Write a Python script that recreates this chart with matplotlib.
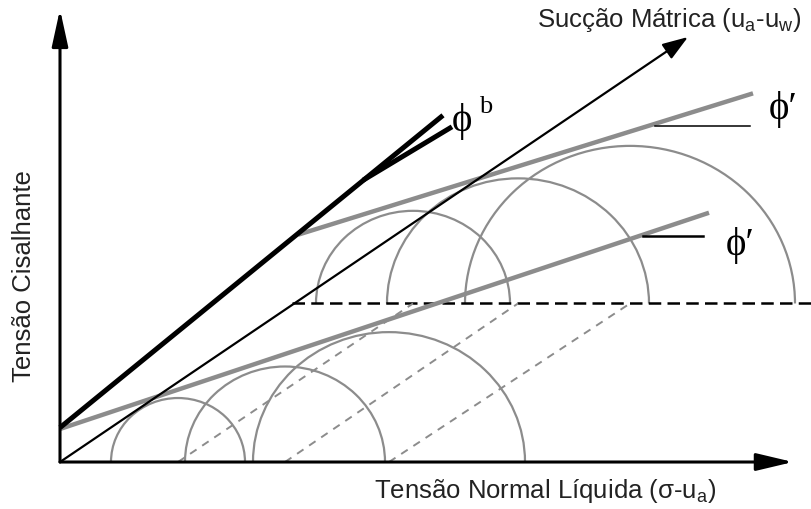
import matplotlib
matplotlib.use('Agg')
import matplotlib.pyplot as plt
from matplotlib.patches import Arc

plt.rcParams['mathtext.fontset'] = 'custom'
plt.rcParams['mathtext.rm'] = 'Liberation Sans'
plt.rcParams['mathtext.it'] = 'Liberation Sans:italic'

# Mohr circles on the net normal stress axis (zero suction)
lower_centers = [118, 225, 329]
lower_radii = [67, 100, 136]
# Mohr circles at the higher matric suction level
suction_level = 166
upper_centers = [353, 458, 570]
upper_radii = [97, 131, 165]

# failure envelopes
env_lower_x = [0, 649]
env_lower_y = [34.6, 261]
env_upper_x = [238, 693]
env_upper_y = [238, 386]
# phi_b line and its short branch
phib_x = [0, 383]
phib_y = [36, 363]
phib_branch_x = [303, 392]
phib_branch_y = [295, 351]
# horizontal references for phi'
ref_upper_x = [595, 690]
ref_upper_y = [352, 352]
ref_lower_x = [583, 643]
ref_lower_y = [237, 237]
# axis tips
x_tip = 733
y_tip = 474
suction_tip = (628, 445)

gray = '#8c8c8c'

fig = plt.figure(figsize=(8.11, 5.10), dpi=100)
ax = fig.add_axes([0, 0, 1, 1])
ax.set_xlim(-60, 751)
ax.set_ylim(-49.2, 484.8)
ax.axis('off')

# main axes
ax.annotate('', xy=(x_tip, 0), xytext=(0, 0),
            arrowprops=dict(arrowstyle='-|>,head_length=1.6,head_width=0.38', lw=2.2,
                            color='black', mutation_scale=14, shrinkA=0, shrinkB=0))
ax.annotate('', xy=(0, y_tip), xytext=(0, 0),
            arrowprops=dict(arrowstyle='-|>,head_length=1.6,head_width=0.35', lw=2.2,
                            color='black', mutation_scale=14, shrinkA=0, shrinkB=0))
ax.annotate('', xy=suction_tip, xytext=(0, 0),
            arrowprops=dict(arrowstyle='-|>,head_length=1.3,head_width=0.45', lw=1.6,
                            color='black', mutation_scale=12, shrinkA=0, shrinkB=0))

# dashed line of the suction plane
ax.plot([232, 751], [suction_level, suction_level], color='black', lw=1.8,
        dashes=(5, 2.5))

# gray dashed links between circle centres
for lc, uc in zip(lower_centers, upper_centers):
    ax.plot([lc, uc], [0, suction_level], color=gray, lw=1.4, dashes=(4, 3.5))

# Mohr circles
for c, r in zip(lower_centers, lower_radii):
    ax.add_patch(Arc((c, 0), 2 * r, 2 * r, theta1=0, theta2=180, color=gray, lw=1.6))
for c, r in zip(upper_centers, upper_radii):
    ax.add_patch(Arc((c, suction_level), 2 * r, 2 * r, theta1=0, theta2=180,
                     color=gray, lw=1.6))

# envelopes
ax.plot(env_lower_x, env_lower_y, color=gray, lw=3.2, solid_capstyle='butt')
ax.plot(env_upper_x, env_upper_y, color=gray, lw=3.2, solid_capstyle='butt')
ax.plot(phib_x, phib_y, color='black', lw=3.6, solid_capstyle='butt')
ax.plot(phib_branch_x, phib_branch_y, color='black', lw=3.6, solid_capstyle='butt')
ax.plot(ref_upper_x, ref_upper_y, color='black', lw=1.1)
ax.plot(ref_lower_x, ref_lower_y, color='black', lw=1.8)

# labels
serif = ['Liberation Serif', 'DejaVu Serif']
ax.text(392, 358, '\u03d5', fontsize=28, family=serif, ha='left', va='center')
ax.text(419, 373, 'b', fontsize=19, family=serif, ha='left', va='center')
ax.text(709, 370, '\u03d5\u2032', fontsize=28, family=serif, ha='left', va='center')
ax.text(666, 228, '\u03d5\u2032', fontsize=28, family=serif, ha='left', va='center')

sans = 'Liberation Sans'
ax.text(609, 464, r'Sucção Mátrica (u$_\mathrm{a}$-u$_\mathrm{w}$)', fontsize=18.5,
        family=sans, color='#222222', ha='center', va='center')
ax.text(485, -29.5, r'Tensão Normal Líquida (σ-u$_\mathrm{a}$)', fontsize=18.5,
        family=sans, color='#222222', ha='center', va='center')
ax.text(-36, 196, 'Tensão Cisalhante', fontsize=18.5, family=sans, color='#222222',
        rotation=90, ha='center', va='center')

fig.savefig('out.png', dpi=100)
